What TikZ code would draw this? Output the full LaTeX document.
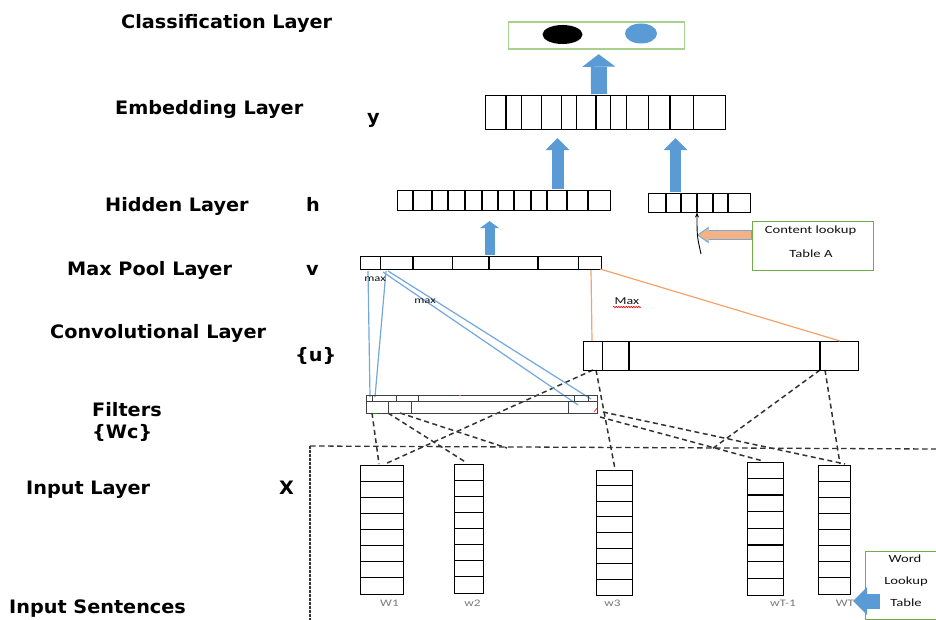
\documentclass[tikz,border=0pt]{standalone}
\usepackage{fontspec}
\newfontfamily\labfont[FakeStretch=1.04]{DejaVu Sans}
\newfontfamily\smfont[FakeStretch=1.33]{Carlito}
\usetikzlibrary{arrows.meta,decorations.pathmorphing}
\definecolor{fatblue}{HTML}{5B9BD5}
\definecolor{lgreen}{HTML}{A9D18E}
\definecolor{dgreen}{HTML}{70AD47}
\definecolor{thinblue}{HTML}{72A8DE}
\definecolor{orline}{HTML}{F4A46A}
\definecolor{orfill}{HTML}{F4B183}
\definecolor{dgray}{HTML}{333333}
\definecolor{txtgray}{HTML}{111111}
\definecolor{lblgray}{HTML}{7A7A7A}
\begin{document}
\begin{tikzpicture}[x=1pt,y=-1pt,
  lab/.style={font=\labfont\bfseries\fontsize{18.5pt}{22pt}\selectfont, anchor=base west, inner sep=0pt, text=black},
  sm/.style={font=\smfont\fontsize{11pt}{12pt}\selectfont, inner sep=0pt, text=txtgray},
  tiny/.style={font=\smfont\fontsize{9.5pt}{10pt}\selectfont, inner sep=0pt, text=txtgray},
  col/.style={font=\smfont\fontsize{10pt}{11pt}\selectfont, inner sep=0pt, text=lblgray},
  box/.style={draw=black, line width=1.1pt, inner sep=0pt, anchor=north west},
  cell/.style={black, line width=1.1pt},
  conn/.style={draw=dgray, line width=1.5pt, dash pattern=on 5pt off 3.5pt},
  border/.style={draw=dgray, line width=1.3pt, dash pattern=on 5.5pt off 3.5pt},
  bline/.style={draw=thinblue, line width=1.2pt},
  oline/.style={draw=orline, line width=1.2pt},
  fatarrow/.style n args={3}{draw=fatblue, line width=#1, -{Triangle[width=#2, length=#3, line width=0pt]}}
]
\useasboundingbox (0,0) rectangle (936,620);
\fill[white] (0,0) rectangle (936,620);

% ---------- left labels ----------
\node[lab] (lcls) at (121,29) {Classification Layer};
\node[lab] (lemb) at (115,115) {Embedding Layer};
\node[lab] (ly) at (367,124) {y};
\node[lab] (lhid) at (105,212) {Hidden Layer};
\node[lab] (lh) at (306,212) {h};
\node[lab] (lpool) at (67,275.5) {Max Pool Layer};
\node[lab] (lv) at (306,275.5) {v};
\node[lab] (lconv) at (50,338.5) {Convolutional Layer};
\node[lab] (lu) at (295,361) {\{u\}};
\node[lab] (lfil) at (92,416) {Filters};
\node[lab] (lwc) at (92,438) {\{Wc\}};
\node[lab] (linp) at (26,494) {Input Layer};
\node[lab] (lx) at (279,494) {X};
\node[lab] (lsen) at (9,613.5) {Input Sentences};

% ---------- border of the input region ----------
\coordinate (bTL) at (310,446);
\coordinate (bTR) at (936,449);
\coordinate (bBL) at (310,620);
\draw[border] (bTL) -- (bTR);
\draw[draw=dgray, line width=1.1pt, dash pattern=on 2.5pt off 1.5pt] (bTL) -- (bBL);

% ---------- dashed connectors ----------
\coordinate (cA) at (593,370);
\coordinate (cB) at (596,370);
\coordinate (cC) at (820,370);
\coordinate (cD) at (825,370);
\coordinate (fA) at (372,413);
\coordinate (fB) at (388,413);
\coordinate (fC) at (400,413);
\coordinate (fD) at (600,417);
\coordinate (fE) at (603,412);
\coordinate (w1t) at (385,464);
\coordinate (w1s) at (379,464);
\coordinate (w2t) at (467,463);
\coordinate (w3t) at (615,469);
\coordinate (brd1) at (712,449);
\coordinate (brd2) at (507,448);
\coordinate (wt1t) at (763,461);
\coordinate (wtt) at (845,464);
\coordinate (wtt2) at (840,464);
\draw[conn] (cA) -- (w1t);
\draw[conn] (cB) -- (w3t);
\draw[conn] (cC) -- (brd1);
\draw[conn] (cD) -- (wtt2);
\draw[conn] (fA) -- (w1s);
\draw[conn] (fB) -- (w2t);
\draw[conn] (fC) -- (brd2);
\draw[conn] (fD) -- (wt1t);
\draw[conn] (fE) -- (wtt);

% ---------- classification ----------
\node[box, draw=lgreen, line width=1.2pt, minimum width=176pt, minimum height=27pt] (cls) at (508,21.5) {};
\fill[black] (562.5,34.5) ellipse [x radius=20pt, y radius=9.5pt];
\fill[fatblue] (641,33.5) ellipse [x radius=16pt, y radius=10pt];

% ---------- embedding ----------
\node[box, minimum width=240pt, minimum height=34pt] (emb) at (485,95) {};
\foreach \x in {506,521.7,541.7,561.7,576.7,596,610.7,626.7,648.3,670,693.3}
  \draw[cell] (\x,95) -- (\x,129);

% ---------- hidden ----------
\node[box, minimum width=213pt, minimum height=20pt] (hid) at (397,190) {};
\foreach \x in {413,432,448,465,482,498,514,531,547,567,588}
  \draw[cell] (\x,190) -- (\x,210);
\node[box, minimum width=102pt, minimum height=19pt] (aux) at (648,193) {};
\foreach \x in {666,681,697,713,728}
  \draw[cell] (\x,193) -- (\x,212);

% ---------- content lookup ----------
\node[box, draw=dgreen, line width=1.2pt, minimum width=121pt, minimum height=49pt] (clt) at (752,221) {};
\node[sm] (clt1) at (810.5,231) {Content lookup};
\node[sm] (clt2) at (811,253.5) {Table A};
\coordinate (orTip) at (698,235);
\draw[draw=thinblue, line width=10.2pt, -{Triangle[width=16.5pt, length=11.5pt, line width=0pt]}] (clt.west |- orTip) -- ([xshift=-1pt]orTip);
\draw[draw=orfill, line width=7.8pt, -{Triangle[width=13pt, length=9.5pt, line width=0pt]}] ([xshift=-0.8pt]clt.west |- orTip) -- ([xshift=0.6pt]orTip);
\coordinate (thinStart) at (701,254);
\coordinate (thinEnd) at (697,212.5);
\draw[black, line width=0.9pt, -{Stealth[length=5pt, width=4pt]}] (thinStart) .. controls (697,236) .. (thinEnd);

% ---------- max pool ----------
\node[box, minimum width=241pt, minimum height=13pt] (pool) at (360,256) {};
\foreach \x in {380.7,413,452.7,489,538,578.3}
  \draw[cell] (\x,256) -- (\x,269);

% ---------- convolutional ----------
\node[box, minimum width=275.5pt, minimum height=29pt] (conv) at (582.5,341) {};
\foreach \x in {602.3,629,820}
  \draw[cell] (\x,341) -- (\x,370);

% ---------- orange max lines ----------
\coordinate (oA) at (591,270);
\coordinate (oB) at (592,341);
\coordinate (oC) at (600,269);
\coordinate (oD) at (840,341);
\draw[oline] (oA) -- (oB);
\draw[oline] (oC) -- (oD);

% ---------- blue max lines ----------
\coordinate (pA) at (368,271);
\coordinate (pB) at (386,271);
\coordinate (pC) at (383,272);
\coordinate (pD) at (388,271);
\coordinate (qA) at (370,397);
\coordinate (qB) at (375,397);
\coordinate (qC) at (578,405);
\coordinate (qD) at (591,399);
\draw[bline] (pA) -- (qA);
\draw[bline] (pB) -- (qB);
\draw[bline] (pC) -- (qC);
\draw[bline] (pD) -- (qD);

% ---------- filters ----------
\node[box, draw=black!75, line width=1pt, minimum width=231pt, minimum height=18pt] (filt) at (366,395) {};
\draw[draw=black!75, line width=1pt] (366,401) -- (597,401);
\foreach \x in {372,396.5,418.3,574,588}
  \draw[draw=black!75, line width=1pt] (\x,395) -- (\x,401);
\foreach \x in {388.3,411,568.3}
  \draw[draw=black!75, line width=1pt] (\x,401) -- (\x,413);
\draw[red!80, line width=0.8pt] (594,412) -- (597,408);
\draw[green!60!black, line width=0.8pt] (373,413) -- (377,413);
\draw[red!70, line width=0.8pt] (459,395) -- (461,395);

% ---------- max labels ----------
\node[tiny] (mx1) at (375,279) {max};
\node[tiny] (mx2) at (425,301) {max};
\node[tiny, font=\smfont\fontsize{10.5pt}{11pt}\selectfont] (mx3) at (627,301) {Max};
\draw[red, line width=0.6pt, decorate, decoration={snake, amplitude=0.7pt, segment length=2.5pt}] (613,307) -- (641,307);

% ---------- fat blue arrows ----------
\draw[fatarrow={16pt}{33pt}{12.5pt}] ([xshift=-6.5pt,yshift=1pt]emb.north) -- ([xshift=2pt,yshift=-4.5pt]cls.south);
\draw[fatarrow={12pt}{24pt}{12pt}] ([xshift=53.5pt,yshift=1pt]hid.north) -- ([xshift=-48pt,yshift=-8pt]emb.south);
\draw[fatarrow={11.5pt}{24pt}{12pt}] ([xshift=-24pt,yshift=1pt]aux.north) -- ([xshift=70pt,yshift=-8pt]emb.south);
\draw[fatarrow={10pt}{19pt}{7pt}] ([xshift=8.5pt,yshift=1pt]pool.north) -- ([xshift=-14.5pt,yshift=-10pt]hid.south);

% ---------- input columns ----------
\foreach \n/\l/\r/\t/\b in {w1/360/403.3/465/594, w2/454.3/482.7/464/592.7, w3/596/632/470/595, wt1/747.3/782.7/461.7/595, wt/818.3/850/465/594} {
  \pgfmathsetmacro\ww{\r-\l}
  \pgfmathsetmacro\hh{\b-\t}
  \node[box, minimum width=\ww pt, minimum height=\hh pt] (\n) at (\l,\t) {};
  \foreach \k in {1,...,7}
    \draw[cell] (\l,{\t+\k*\hh/8}) -- (\r,{\t+\k*\hh/8});
}
\node[col] (lw1) at (389.5,603.5) {W1};
\node[col] (lw2) at (472.5,603.5) {w2};
\node[col] (lw3) at (612.5,603.5) {w3};
\node[col] (lwt1) at (783,603.5) {wT-1};
\node[col] (lwt) at (845,603.5) {WT};

% ---------- word lookup table ----------
\node[box, draw=dgreen, line width=1.2pt, minimum width=80pt, minimum height=68pt] (wlt) at (865,551) {};
\node[sm] (wl1) at (905,559) {Word};
\node[sm] (wl2) at (906,581.5) {Lookup};
\node[sm] (wl3) at (906,603) {Table};
\coordinate (wlTip) at (853,601);
\draw[fatarrow={15pt}{28pt}{14pt}] ([xshift=15pt]wlt.west |- wlTip) -- (wlTip);
\end{tikzpicture}
\end{document}
